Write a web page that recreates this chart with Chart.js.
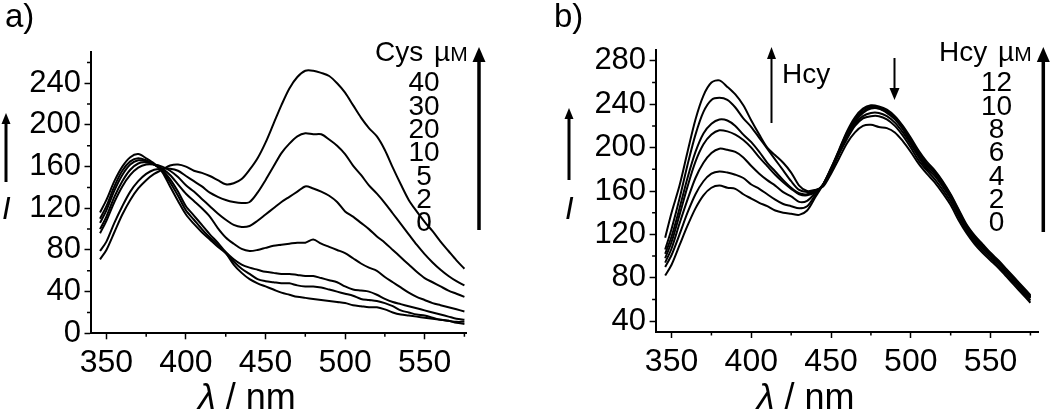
<!DOCTYPE html>
<html>
<head>
<meta charset="utf-8">
<title>Cys / Hcy emission spectra</title>
<script src="https://cdn.jsdelivr.net/npm/chart.js@4.4.1/dist/chart.umd.min.js"></script>
<style>
  body { margin: 0; background: #fff; }
  #wrap { position: relative; width: 1050px; height: 409px; overflow: hidden; font-family: "Liberation Sans", Arial, sans-serif; color: #000; }
  canvas { position: absolute; top: 0; }
  .lbl { position: absolute; white-space: nowrap; }
</style>
</head>
<body>
<div id="wrap">
  <canvas id="chartA" width="520" height="409" style="left:0"></canvas>
  <canvas id="chartB" width="530" height="409" style="left:520px"></canvas>
</div>
<script>
// wavelength axis (nm), shared by every spectrum
const wavelengths = [346, 350, 355, 360, 365, 370, 375, 380, 385, 390, 395, 400, 405, 410, 415, 420, 425, 430, 435, 440,
  445, 450, 455, 460, 465, 470, 475, 480, 485, 490, 495, 500, 505, 510, 515, 520, 525, 530, 535, 540,
  545, 550, 555, 560, 565, 570, 575];

// panel a) - Cys titration
const cysLevels = [0, 2, 5, 10, 20, 30, 40];
const cys0  = [116, 128, 146, 160, 169, 172, 168, 163, 155, 141, 127, 114, 105, 97, 90, 83, 77, 66, 58, 52,
  48, 45, 42, 39, 37, 35, 34, 33, 32, 31, 30, 29, 27, 26, 25, 25, 23, 20, 18, 17, 16, 15, 14, 13, 12, 10, 9];
const cys2  = [110, 122, 141, 156, 165, 168, 166, 162, 156, 145, 132, 118, 109, 100, 92, 85, 77, 69, 62, 57,
  52, 50, 49, 48, 48, 46, 45, 45, 44, 42, 40, 38, 36, 33, 32, 31, 29, 26, 22, 20, 18, 17, 15, 13, 12, 11, 11];
const cys5  = [106, 118, 137, 152, 162, 166, 165, 162, 157, 148, 136, 122, 113, 104, 95, 87, 78, 71, 66, 63,
  61, 59, 58, 57, 57, 56, 55, 55, 53, 51, 49, 45, 42, 41, 40, 37, 33, 30, 28, 26, 24, 22, 20, 18, 16, 14, 13];
const cys10 = [100, 112, 131, 146, 157, 163, 164, 162, 158, 152, 143, 134, 127, 120, 112, 101, 92, 86, 81, 79,
  80, 82, 84, 85, 86, 87, 87, 90, 86, 83, 80, 77, 72, 67, 63, 60, 54, 49, 44, 39, 35, 32, 29, 27, 25, 23, 21];
const cys20 = [96, 108, 126, 141, 152, 159, 162, 162, 160, 156, 150, 142, 136, 129, 122, 115, 109, 104, 102, 103,
  108, 114, 120, 126, 131, 136, 141, 139, 136, 132, 126, 117, 112, 106, 100, 93, 87, 80, 73, 66, 59, 53, 49, 45, 41, 38, 35];
const cys30 = [79, 88, 106, 122, 136, 146, 153, 157, 158, 158, 156, 151, 146, 141, 135, 131, 128, 126, 125, 126,
  135, 147, 160, 173, 182, 189, 192, 191, 191, 186, 180, 172, 161, 152, 142, 134, 125, 115, 105, 95, 85, 76, 68, 61, 55, 50, 46];
const cys40 = [71, 80, 97, 114, 128, 139, 147, 153, 157, 161, 162, 160, 156, 154, 151, 147, 143, 144, 148, 157,
  168, 183, 201, 219, 235, 246, 252, 252, 250, 247, 240, 231, 219, 207, 197, 189, 176, 159, 143, 128, 117, 107, 98, 88, 79, 70, 62];

// panel b) - Hcy titration
const hcyLevels = [0, 2, 4, 6, 8, 10, 12];
const hcy0  = [82, 92, 110, 128, 144, 156, 163, 165, 163, 162, 157, 153, 149, 146, 142, 140, 139, 138, 142, 154,
  166, 181, 198, 215, 228, 236, 239, 238, 235, 229, 220, 209, 197, 187, 179, 169, 157, 143, 129, 119, 111, 103, 96, 88, 80, 72, 64];
const hcy2  = [90, 101, 120, 140, 157, 169, 176, 178, 177, 175, 172, 166, 162, 157, 152, 148, 146, 144, 146, 156,
  166, 181, 197, 214, 226, 235, 238, 237, 234, 228, 219, 207, 195, 185, 178, 168, 156, 142, 128, 118, 110, 102, 95, 87, 79, 71, 63];
const hcy4  = [94, 107, 130, 152, 172, 186, 195, 199, 198, 196, 191, 183, 176, 170, 165, 159, 155, 150, 151, 158,
  166, 180, 197, 213, 225, 233, 237, 236, 233, 227, 218, 206, 194, 184, 177, 167, 156, 141, 127, 117, 109, 101, 94, 86, 78, 70, 62];
const hcy6  = [98, 113, 138, 164, 187, 203, 212, 216, 215, 212, 207, 200, 191, 183, 175, 168, 162, 157, 156, 159,
  166, 180, 196, 212, 224, 232, 236, 236, 232, 226, 217, 205, 193, 183, 176, 166, 155, 140, 126, 116, 108, 101, 94, 86, 78, 70, 62];
const hcy8  = [102, 118, 144, 172, 196, 213, 222, 226, 225, 220, 212, 205, 196, 186, 178, 170, 163, 158, 157, 160,
  165, 179, 195, 210, 222, 229, 232, 232, 229, 223, 214, 203, 191, 181, 174, 164, 153, 138, 125, 115, 107, 100, 93, 85, 77, 69, 61];
const hcy10 = [106, 125, 153, 184, 212, 233, 244, 246, 244, 237, 227, 219, 209, 199, 189, 179, 169, 161, 159, 160,
  165, 178, 194, 208, 220, 227, 229, 229, 226, 220, 211, 200, 188, 179, 171, 161, 150, 136, 123, 113, 105, 98, 91, 83, 75, 67, 59];
const hcy12 = [117, 140, 165, 196, 226, 248, 260, 262, 256, 249, 239, 225, 212, 200, 193, 186, 177, 165, 160, 161,
  164, 176, 190, 204, 214, 220, 221, 219, 218, 214, 206, 196, 185, 176, 168, 158, 147, 133, 121, 111, 103, 96, 89, 81, 73, 65, 57];

// ticks
const xMajor = [350, 400, 450, 500, 550];
const xMinor = [375, 425, 475, 525, 575];
const yMajorA = [0, 40, 80, 120, 160, 200, 240];
const yMinorA = [20, 60, 100, 140, 180, 220, 260];
const yMajorB = [40, 80, 120, 160, 200, 240, 280];
const yMinorB = [60, 100, 140, 180, 220, 260];

const FONT = 'Liberation Sans';

function series(label, vals) {
  return {
    label: label,
    data: wavelengths.map((w, i) => ({ x: w, y: vals[i] })),
    borderColor: '#000',
    borderWidth: 2,
    pointRadius: 0,
    tension: 0.3,
    fill: false
  };
}

// minor ticks (shorter) and the annotation arrows
const extras = {
  id: 'extras',
  afterDraw(chart, args, opts) {
    const ctx = chart.ctx;
    const xs = chart.scales.x, ys = chart.scales.y;
    ctx.save();
    ctx.strokeStyle = '#000';
    ctx.fillStyle = '#000';
    ctx.lineWidth = 1.5;
    ctx.beginPath();
    opts.xMinor.forEach(v => {
      const px = xs.getPixelForValue(v);
      ctx.moveTo(px, xs.top); ctx.lineTo(px, xs.top + 3.5);
    });
    opts.yMinor.forEach(v => {
      const py = ys.getPixelForValue(v);
      ctx.moveTo(ys.right - 3.5, py); ctx.lineTo(ys.right, py);
    });
    ctx.stroke();
    opts.arrows.forEach(a => {
      const dir = a.tip < a.tail ? -1 : 1;
      const baseY = a.tip - dir * a.hl;
      ctx.lineWidth = a.lw;
      ctx.beginPath();
      ctx.moveTo(a.x, a.tail); ctx.lineTo(a.x, baseY + dir);
      ctx.stroke();
      ctx.beginPath();
      ctx.moveTo(a.x, a.tip);
      ctx.lineTo(a.x - a.hw, baseY);
      ctx.lineTo(a.x + a.hw, baseY);
      ctx.closePath();
      ctx.fill();
    });
    ctx.restore();
  }
};

function makeChart(id, datasets, cfg) {
  return new Chart(document.getElementById(id), {
    type: 'line',
    data: { datasets: datasets },
    options: {
      responsive: false,
      animation: false,
      events: [],
      layout: { padding: cfg.padding },
      plugins: {
        legend: { display: false },
        tooltip: { enabled: false },
        extras: { xMinor: xMinor, yMinor: cfg.yMinor, arrows: cfg.arrows }
      },
      scales: {
        x: {
          type: 'linear',
          min: cfg.xMin, max: cfg.xMax,
          afterBuildTicks: s => { s.ticks = xMajor.map(v => ({ value: v })); },
          afterFit: s => { s.height = cfg.xHeight; },
          ticks: { font: { family: FONT, size: 32 }, color: '#000', padding: 5, maxRotation: 0, autoSkip: false },
          grid: { drawOnChartArea: false, tickLength: 6, tickWidth: 1.5, tickColor: '#000' },
          border: { display: true, color: '#000', width: 2 }
        },
        y: {
          type: 'linear',
          min: cfg.yMin, max: cfg.yMax,
          afterBuildTicks: s => { s.ticks = cfg.yMajor.map(v => ({ value: v })); },
          afterFit: s => { s.width = cfg.yWidth; },
          ticks: { font: { family: FONT, size: 31 }, color: '#000', padding: 3.5, autoSkip: false },
          grid: { drawOnChartArea: false, tickLength: 6, tickWidth: 1.5, tickColor: '#000' },
          border: { display: true, color: '#000', width: 2 }
        }
      }
    },
    plugins: [extras]
  });
}

makeChart('chartA',
  [cys0, cys2, cys5, cys10, cys20, cys30, cys40].map((v, i) => series(cysLevels[i] + ' µM Cys', v)),
  {
    xMin: 340, xMax: 576, yMin: 0, yMax: 270,
    yMajor: yMajorA, yMinor: yMinorA,
    yWidth: 90.5, xHeight: 75.7,
    padding: { left: 0, right: 54, top: 52, bottom: 0 },
    arrows: [
      { x: 6, tail: 182, tip: 113, lw: 3, hw: 4.5, hl: 11 },
      { x: 479, tail: 230, tip: 47, lw: 3.5, hw: 6.5, hl: 15 }
    ]
  });

makeChart('chartB',
  [hcy0, hcy2, hcy4, hcy6, hcy8, hcy10, hcy12].map((v, i) => series(hcyLevels[i] + ' µM Hcy', v)),
  {
    xMin: 340, xMax: 580, yMin: 30, yMax: 290,
    yMajor: yMajorB, yMinor: yMinorB,
    yWidth: 135.6, xHeight: 77,
    padding: { left: 0, right: 11.6, top: 50, bottom: 0 },
    arrows: [
      { x: 49, tail: 180, tip: 108, lw: 3, hw: 4.5, hl: 11 },
      { x: 251.5, tail: 123, tip: 47, lw: 2, hw: 4.5, hl: 12 },
      { x: 374.5, tail: 58, tip: 100, lw: 2, hw: 5, hl: 12 },
      { x: 523.3, tail: 232, tip: 47, lw: 3.5, hw: 6.5, hl: 15 }
    ]
  });

// text annotations, placed by their baseline
const wrap = document.getElementById('wrap');
function addLabel(html, x, baseline, size, align, italic) {
  const el = document.createElement('div');
  el.className = 'lbl';
  el.innerHTML = html;
  el.style.fontSize = size + 'px';
  el.style.lineHeight = size + 'px';
  el.style.top = (baseline - 0.8465 * size) + 'px';
  el.style.left = x + 'px';
  if (align === 'center') el.style.transform = 'translateX(-50%)';
  if (italic) el.style.fontStyle = 'italic';
  wrap.appendChild(el);
}

const stackBase = [92, 115.3, 138.6, 162, 185.3, 208.6, 232];

// panel a
addLabel('a)', 5, 27, 33);
addLabel('I', 2, 219, 31, null, true);
addLabel('Cys <span style="margin-left:3px">µ<span style="font-size:21px">M</span></span>', 375, 62, 28);
cysLevels.slice().reverse().forEach((c, i) => addLabel(String(c), 424, stackBase[i], 28, 'center'));
addLabel('<i>λ</i> / nm', 246.8, 409, 36, 'center');

// panel b
addLabel('b)', 554, 27, 33);
addLabel('I', 565, 219, 31, null, true);
addLabel('Hcy', 782, 83.6, 28);
addLabel('Hcy <span style="margin-left:3px">µ<span style="font-size:21px">M</span></span>', 939, 62, 28);
hcyLevels.slice().reverse().forEach((c, i) => addLabel(String(c), 996.5, stackBase[i], 28, 'center'));
addLabel('<i>λ</i> / nm', 805.7, 409, 36, 'center');
</script>
</body>
</html>
